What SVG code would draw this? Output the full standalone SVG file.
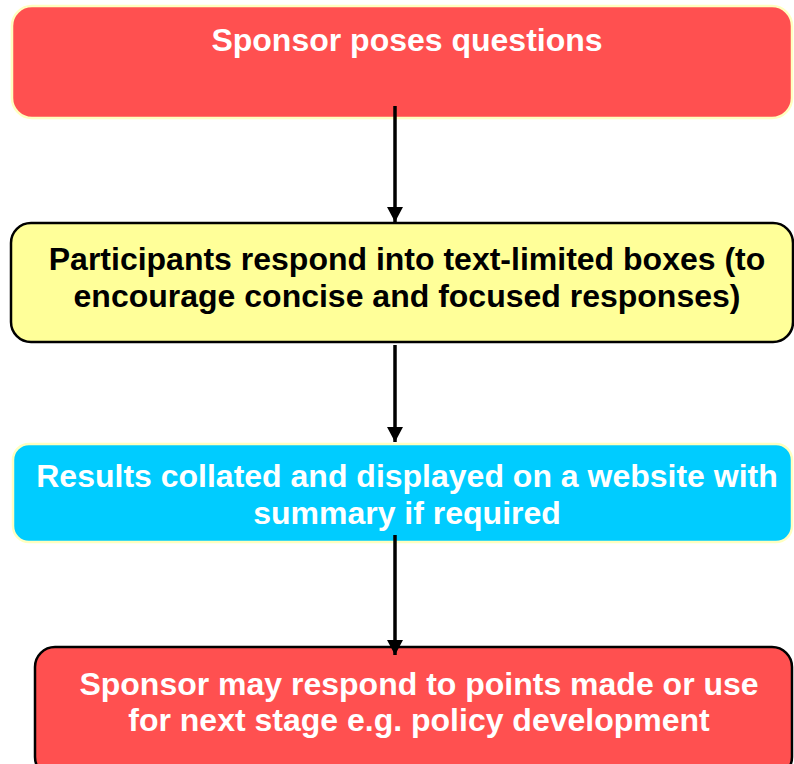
<svg xmlns="http://www.w3.org/2000/svg" width="794" height="764" viewBox="0 0 794 764">
<defs>
<style>
.t{font-family:"Liberation Sans",Arial,sans-serif;font-weight:bold;font-size:32px;text-anchor:middle}
.w{fill:#FFFFFF}
.k{fill:#000000}
.c{stroke:#000;stroke-width:3.5;fill:none}
</style>
<marker id="ah" markerWidth="15" markerHeight="16" refX="15" refY="8" orient="auto" markerUnits="userSpaceOnUse" viewBox="0 0 15 16">
<path d="M0,0 L15,8 L0,16 Z" fill="#000"/>
</marker>
</defs>
<rect width="794" height="764" fill="#FFFFFF"/>
<g id="n1">
<rect x="12" y="6" width="780" height="112" rx="20" fill="#FF5050" stroke="#FFFFC0" stroke-width="2.5"/>
<text class="t w" x="407" y="51">Sponsor poses questions</text>
</g>
<g id="n2">
<rect x="11" y="223" width="782" height="119" rx="20" fill="#FFFF99" stroke="#000" stroke-width="2.5"/>
<text class="t k" x="407" y="270">Participants respond into text-limited boxes (to</text>
<text class="t k" x="407" y="307">encourage concise and focused responses)</text>
</g>
<g id="n3">
<rect x="13" y="444" width="779" height="98" rx="16" fill="#00CCFF" stroke="#FFFFC0" stroke-width="2.5"/>
<text class="t w" x="407" y="487">Results collated and displayed on a website with</text>
<text class="t w" x="407" y="524">summary if required</text>
</g>
<g id="n4">
<rect x="35" y="647" width="757" height="130" rx="20" fill="#FF5050" stroke="#000" stroke-width="2.5"/>
<text class="t w" x="419" y="695">Sponsor may respond to points made or use</text>
<text class="t w" x="419" y="731">for next stage e.g. policy development</text>
</g>
<g id="connectors">
<line class="c" x1="395" y1="106" x2="395" y2="222" marker-end="url(#ah)"/>
<line class="c" x1="395" y1="345" x2="395" y2="442" marker-end="url(#ah)"/>
<line class="c" x1="395" y1="535" x2="395" y2="655" marker-end="url(#ah)"/>
</g>
</svg>
